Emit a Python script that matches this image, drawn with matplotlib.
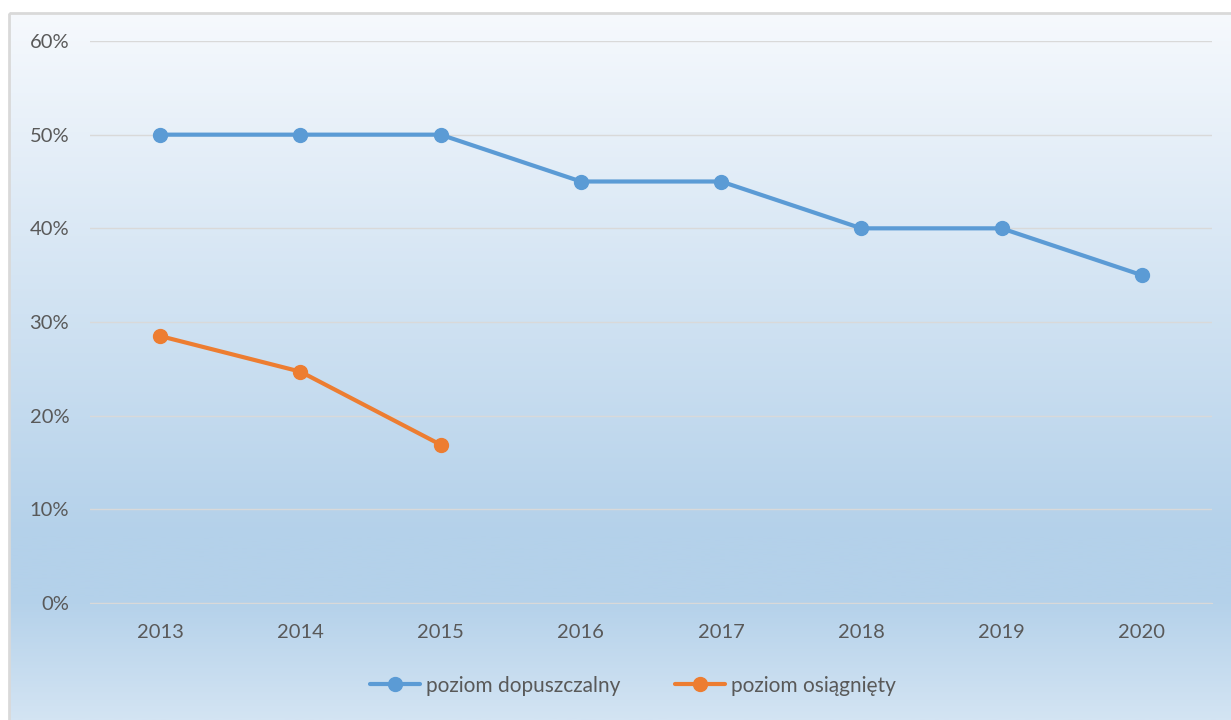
import matplotlib.pyplot as plt
import matplotlib.colors as mcolors
from matplotlib.patches import Rectangle
from matplotlib.ticker import FuncFormatter
import numpy as np

years = ['2013', '2014', '2015', '2016', '2017', '2018', '2019', '2020']
dopuszczalny = [0.50, 0.50, 0.50, 0.45, 0.45, 0.40, 0.40, 0.35]
osiagniety = [0.285, 0.247, 0.169]

plt.rcParams['font.family'] = ['Lato', 'DejaVu Sans']

fig = plt.figure(figsize=(12.31, 7.2), dpi=100)

# background gradient over the chart area (light at top, darker near bottom)
bg = fig.add_axes([0, 0, 1, 1], zorder=0)
bg.set_axis_off()
stops = [(0.0, '#f6f9fd'), (0.74, '#b4d1ea'), (0.83, '#b4d1ea'), (1.0, '#d3e4f3')]
cmap = mcolors.LinearSegmentedColormap.from_list('grad', stops)
grad = np.linspace(0, 1, 512).reshape(-1, 1)
bg.imshow(grad, aspect='auto', cmap=cmap, extent=[9, 1231, 720, 13])
bg.add_patch(Rectangle((9, 13), 1240, 720, fill=False, edgecolor='#d9d9d9', lw=2))
bg.set_xlim(0, 1231)
bg.set_ylim(720, 0)

ax = fig.add_axes([90 / 1231, 1 - 603 / 720, 1122 / 1231, 562 / 720], zorder=1)
ax.patch.set_alpha(0)
x = np.arange(len(years))

ax.plot(x, dopuszczalny, color='#5b9bd5', lw=3, marker='o', ms=10,
        label='poziom dopuszczalny', solid_capstyle='round')
ax.plot(x[:len(osiagniety)], osiagniety, color='#ed7d31', lw=3, marker='o', ms=10,
        label='poziom osiągnięty', solid_capstyle='round')

ax.set_xlim(-0.5, len(years) - 0.5)
ax.set_ylim(0, 0.6)
ax.set_yticks(np.arange(0, 0.61, 0.1))
ax.yaxis.set_major_formatter(FuncFormatter(lambda v, p: f'{v * 100:.0f}%'))
ax.set_xticks(x)
ax.set_xticklabels(years)
ax.grid(axis='y', color='#d9d9d9', lw=1)
ax.set_axisbelow(True)
for s in ax.spines.values():
    s.set_visible(False)
ax.spines['bottom'].set_visible(True)
ax.spines['bottom'].set_color('#d9d9d9')
ax.tick_params(length=0, labelsize=14.5, colors='#595959')
ax.tick_params(axis='x', pad=15)
ax.tick_params(axis='y', pad=15)

leg = ax.legend(loc='center', bbox_to_anchor=(0.484, -0.147), ncol=2, frameon=False,
                fontsize=15, handlelength=2.4, columnspacing=2.6, handletextpad=0.3,
                labelcolor='#595959')

fig.savefig('out.png', dpi=100)
